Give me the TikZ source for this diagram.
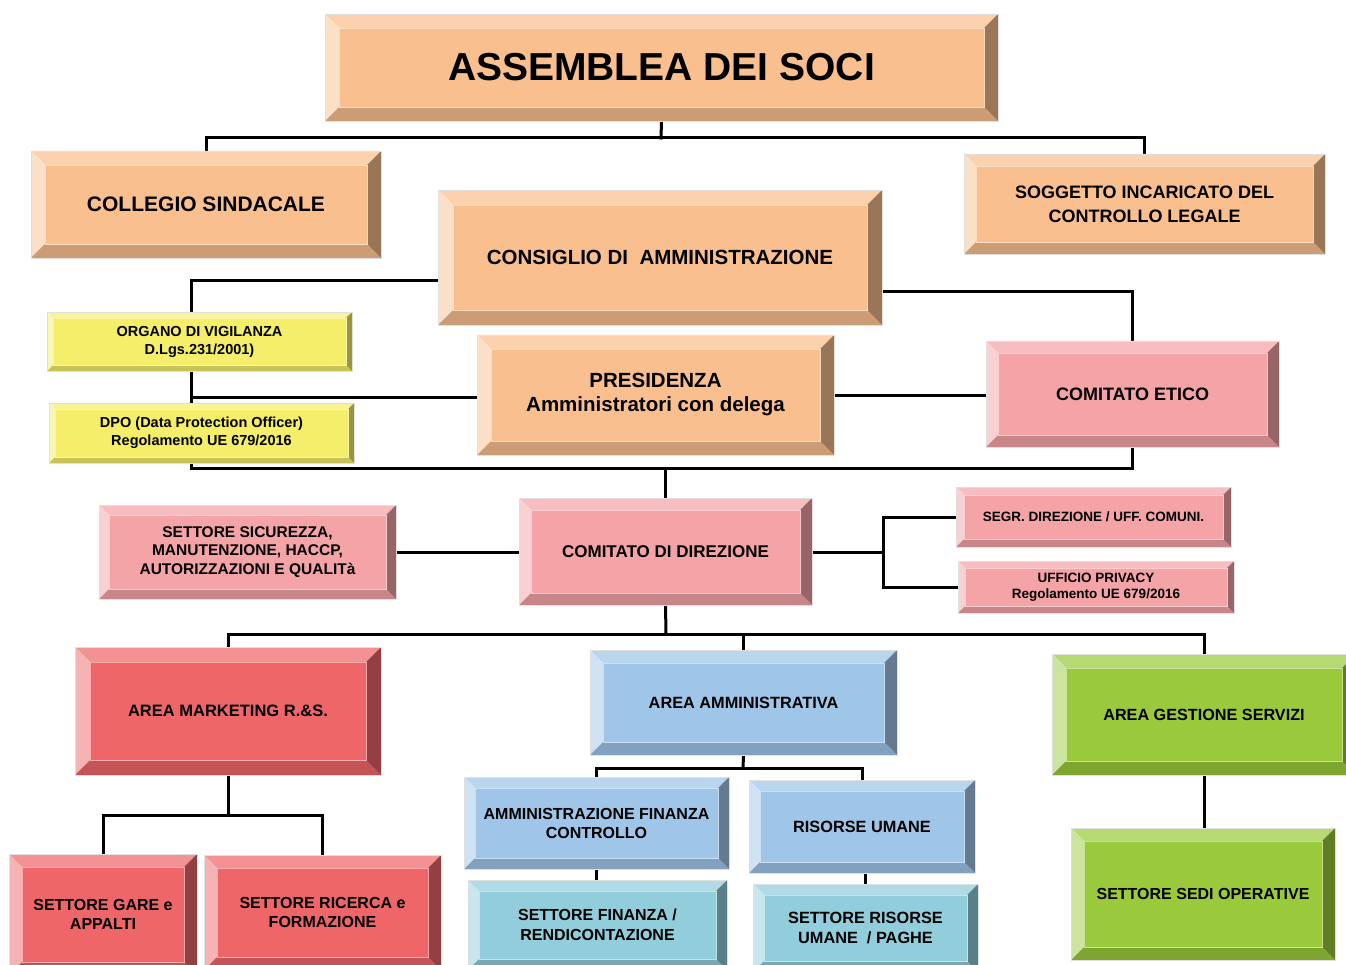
\documentclass[tikz,border=0pt]{standalone}
\usepackage{fontspec}
\setmainfont{Liberation Sans}
\usetikzlibrary{calc}
\pgfdeclarelayer{bg}
\pgfsetlayers{bg,main}
\definecolor{peach}{HTML}{F9BF8F}
\definecolor{yel}{HTML}{F5EE6A}
\definecolor{pink}{HTML}{F4A3A7}
\definecolor{redb}{HTML}{EF6668}
\definecolor{blueb}{HTML}{9FC5E8}
\definecolor{teal}{HTML}{92CDDC}
\definecolor{green}{HTML}{9BC93C}
\newcommand\fs[2]{\bfseries\fontsize{#1}{#2}\selectfont}
\newcommand\bevbox[9]{%
 \pgfmathsetmacro\bw{#4-#2}\pgfmathsetmacro\bh{#5-#3}%
 \fill[#7!72!white] (#2,#3) -- (#4,#3) -- ({#4-#6},{#3+#6}) -- ({#2+#6},{#3+#6}) -- cycle;
 \fill[#7!50!white] (#2,#3) -- ({#2+#6},{#3+#6}) -- ({#2+#6},{#5-#6}) -- (#2,#5) -- cycle;
 \fill[#7!82!black] (#2,#5) -- ({#2+#6},{#5-#6}) -- ({#4-#6},{#5-#6}) -- (#4,#5) -- cycle;
 \fill[#7!62!black] (#4,#3) -- (#4,#5) -- ({#4-#6},{#5-#6}) -- ({#4-#6},{#3+#6}) -- cycle;
 \filldraw[fill=#7, draw=#7!55!white, line width=0.8pt] ({#2+#6},{#3+#6}) rectangle ({#4-#6},{#5-#6});
 \draw[black!12, line width=0.6pt] (#2,#3) rectangle (#4,#5);
 \node[boxtext, minimum width=\bw pt, minimum height=\bh pt, font=#8] (#1) at ({(#2+#4)/2},{(#3+#5)/2}) {#9};
}
\tikzset{
 boxtext/.style={inner sep=0pt, align=center, text=black},
 conn/.style={line width=3pt, black, line cap=rect}
}
\begin{document}
\begin{tikzpicture}[x=1pt,y=-1pt]
\useasboundingbox (0,0) rectangle (1346,965);
% boxes
\bevbox{ass}{325}{14}{998}{121}{14}{peach}{\fs{39}{46}}{ASSEMBLEA DEI SOCI}
\bevbox{coll}{31}{151}{381}{258}{14}{peach}{\fs{21}{25}}{COLLEGIO SINDACALE}
\bevbox{sog}{964}{154}{1325}{254}{12}{peach}{\fs{18}{24}}{SOGGETTO INCARICATO DEL\\CONTROLLO LEGALE}
\bevbox{cons}{438}{190}{882}{325}{15}{peach}{\fs{20.5}{24}}{CONSIGLIO DI~~AMMINISTRAZIONE}
\bevbox{org}{47}{312}{352}{371}{6}{yel}{\fs{14.5}{18}}{ORGANO DI VIGILANZA\\D.Lgs.231/2001)}
\bevbox{dpo}{49}{403}{354}{463}{6}{yel}{\fs{14.5}{18.5}}{DPO (Data Protection Officer)\\Regolamento UE 679/2016}
\bevbox{pres}{477}{335}{834}{455}{14}{peach}{\fs{20.5}{24}}{PRESIDENZA\\Amministratori con delega}
\bevbox{etico}{986}{341}{1279}{447}{12}{pink}{\fs{18}{22}}{COMITATO ETICO}
\bevbox{sic}{99}{505}{396}{599}{10}{pink}{\fs{15.5}{18.5}}{SETTORE SICUREZZA,\\MANUTENZIONE, HACCP,\\AUTORIZZAZIONI E QUALITà}
\bevbox{cdir}{519}{498}{812}{605}{12}{pink}{\fs{17}{21}}{COMITATO DI DIREZIONE}
\bevbox{segr}{956}{487}{1231}{547}{8}{pink}{\fs{13.5}{16}}{SEGR. DIREZIONE / UFF. COMUNI.}
\bevbox{upriv}{958}{561}{1234}{613}{7}{pink}{\fs{13.5}{16}}{UFFICIO PRIVACY\\Regolamento UE 679/2016}
\bevbox{mkt}{75}{647}{381}{775}{15}{redb}{\fs{16.5}{20}}{AREA MARKETING R.\&S.}
\bevbox{amm}{590}{650}{897}{755}{13}{blueb}{\fs{16.3}{20}}{AREA AMMINISTRATIVA}
\bevbox{gest}{1052}{654}{1356}{775}{14}{green}{\fs{16.2}{20}}{AREA GESTIONE SERVIZI}
\bevbox{gare}{9}{854}{197}{975}{13}{redb}{\fs{16}{19}}{SETTORE GARE e\\APPALTI}
\bevbox{ric}{204}{855}{441}{970}{13}{redb}{\fs{16}{19}}{SETTORE RICERCA e\\FORMAZIONE}
\bevbox{amf}{464}{777}{729}{869}{11}{blueb}{\fs{16}{19}}{AMMINISTRAZIONE FINANZA\\CONTROLLO}
\bevbox{ru}{749}{780}{975}{873}{11}{blueb}{\fs{16.3}{20}}{RISORSE UMANE}
\bevbox{sfin}{468}{880}{727}{970}{11}{teal}{\fs{16}{20}}{SETTORE FINANZA /\\RENDICONTAZIONE}
\bevbox{sru}{753}{884}{978}{972}{11}{teal}{\fs{16.3}{19.5}}{SETTORE RISORSE\\UMANE~~/ PAGHE}
\bevbox{sedi}{1071}{828}{1335}{960}{13}{green}{\fs{16}{20}}{SETTORE SEDI OPERATIVE}
% junctions
\coordinate (jA) at (661,138);
\coordinate (jC) at (191,281);
\coordinate (jM) at (191,397);
\coordinate (jL) at (191,468);
\coordinate (jE) at (882,292);
\coordinate (jR) at (883,552);
\coordinate (jD) at (666,634);
\coordinate (jK) at (228,815);
\coordinate (jF) at (743,768);
\begin{pgfonlayer}{bg}
\fill[white] (0,0) rectangle (1346,965);
\draw[conn] (ass.south) -- (jA);
\draw[conn] (coll.north) |- (jA) -| (sog.north);
\draw[conn] (cons.west |- jC) -- (jC) -- (jL) -| (etico.south);
\draw[conn] (jM) -- (pres.west |- jM);
\draw[conn] (jE) -| (etico.north);
\draw[conn] (pres.east) -- (pres.east -| etico.west);
\draw[conn] (cdir.north) -- (cdir.north |- jL);
\draw[conn] (sic.east |- jR) -- (cdir.west |- jR);
\draw[conn] (cdir.east |- jR) -- (jR);
\draw[conn] (segr.west) -| (jR);
\draw[conn] (upriv.west) -| (jR);
\draw[conn] (cdir.south) -- (jD);
\draw[conn] (mkt.north) |- (jD) -| (gest.north);
\draw[conn] (amm.north) -- (amm.north |- jD);
\draw[conn] (mkt.south) -- (jK);
\draw[conn] (gare.north) |- (jK) -| (ric.north);
\draw[conn] (amm.south) -- (jF);
\draw[conn] (amf.north) |- (jF) -| (ru.north);
\draw[conn] (amf.south) -- (sfin.north -| amf.south);
\draw[conn] (sru.north) -- (sru.north |- ru.south);
\draw[conn] (gest.south) -- (sedi.north -| gest.south);
\end{pgfonlayer}
\end{tikzpicture}
\end{document}
